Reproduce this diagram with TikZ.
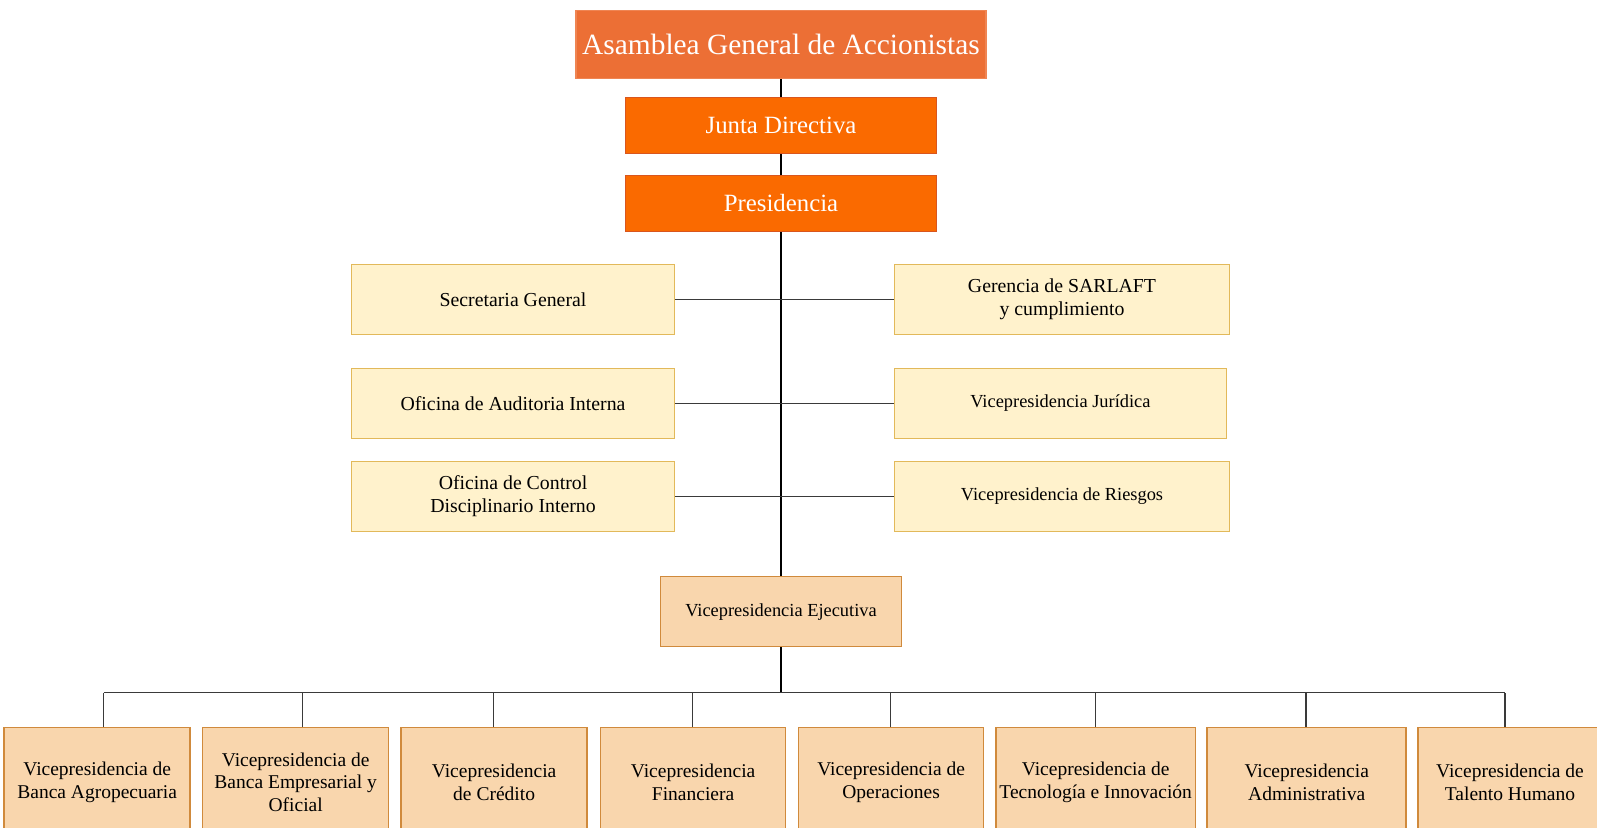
\documentclass[tikz,border=0pt]{standalone}
\usepackage{fontspec}
\setmainfont{Liberation Serif}
\definecolor{asambleafill}{HTML}{EC6F35}
\definecolor{juntafill}{HTML}{FA6A00}
\definecolor{juntaborder}{HTML}{D9561E}
\definecolor{staffill}{HTML}{FFF2CC}
\definecolor{staffborder}{HTML}{E2B95A}
\definecolor{vpfill}{HTML}{F9D6AD}
\definecolor{vpborder}{HTML}{D08A3C}
\definecolor{linkgray}{HTML}{3A3A3A}
\begin{document}
\begin{tikzpicture}[x=1pt,y=-1pt,
  box/.style={rectangle,inner sep=0pt,align=center,line width=1.5pt},
  topbox/.style={box,fill=asambleafill,draw=asambleafill!85!white,text=white,
    minimum width=410pt,minimum height=68pt,font=\fontsize{29.4}{34}\selectfont},
  govbox/.style={box,fill=juntafill,draw=juntaborder,text=white,
    minimum width=311pt,minimum height=56pt,font=\fontsize{24.8}{29}\selectfont},
  staffbox/.style={box,fill=staffill,draw=staffborder,
    minimum height=70pt,font=\fontsize{19.8}{23.5}\selectfont},
  staffsmall/.style={staffbox,font=\fontsize{18.4}{22}\selectfont},
  vpbox/.style={box,fill=vpfill,draw=vpborder,
    minimum height=110pt,font=\fontsize{19.5}{22.4}\selectfont},
  trunk/.style={line width=2pt,black},
  link/.style={line width=1.5pt,linkgray}]
\clip (0,0) rectangle (1597,827);
\fill[white] (0,0) rectangle (1597,827);

% governing bodies
\node[topbox] (asamblea) at (781,44.7) {Asamblea General de Accionistas};
\node[govbox] (junta) at (781,125.7) {Junta Directiva};
\node[govbox] (pres) at (781,203.3) {Presidencia};

% staff offices
\node[staffbox,minimum width=323pt] (secre) at (513,299.3) {Secretaria General};
\node[staffbox,minimum width=323pt] (audit) at (513,403.5) {Oficina de Auditoria Interna};
\node[staffbox,minimum width=323pt] (discip) at (513,496.3) {Oficina de Control\\Disciplinario Interno};
\node[staffbox,minimum width=335pt] (sarlaft) at (1062,299.3) {Gerencia de SARLAFT\\y cumplimiento};
\node[staffsmall,minimum width=332pt] (jur) at (1060.4,403.5) {Vicepresidencia Jurídica};
\node[staffsmall,minimum width=335pt] (riesgo) at (1062,496.3) {Vicepresidencia de Riesgos};

% executive vice presidency
\node[staffsmall,fill=vpfill,draw=vpborder,minimum width=241pt] (ejec) at (781,611.7) {Vicepresidencia Ejecutiva};

% vice presidencies
\node[vpbox,minimum width=186pt] (v1) at (97.2,782.3) {Vicepresidencia de\\Banca Agropecuaria};
\node[vpbox,minimum width=186pt] (v2) at (295.7,782.3) {Vicepresidencia de\\Banca Empresarial y\\Oficial};
\node[vpbox,minimum width=186pt] (v3) at (494.1,782.3) {Vicepresidencia\\de Crédito};
\node[vpbox,minimum width=185pt] (v4) at (693.1,782.3) {Vicepresidencia\\Financiera};
\node[vpbox,minimum width=185pt] (v5) at (891.1,782.3) {Vicepresidencia de\\Operaciones};
\node[vpbox,minimum width=199.5pt] (v6) at (1095.7,782.3) {Vicepresidencia de\\Tecnología e Innovación};
\node[vpbox,minimum width=199pt] (v7) at (1306.7,782.3) {Vicepresidencia\\Administrativa};
\node[vpbox,minimum width=184pt] (v8) at (1510,782.3) {Vicepresidencia de\\Talento Humano};

% main line of authority
\draw[trunk] (asamblea.south) -- (junta.north);
\draw[trunk] (junta.south) -- (pres.north);
\draw[trunk] (pres.south) -- (ejec.north);

% staff links
\draw[link] (secre.east) -- (sarlaft.west);
\draw[link] (audit.east) -- (jur.west);
\draw[link] (discip.east) -- (riesgo.west);

% distribution bus to vice presidencies
\coordinate (bus) at (781,692.7);
\coordinate (d1) at ([xshift=6.4pt]v1.north);
\coordinate (d2) at ([xshift=6.9pt]v2.north);
\coordinate (d3) at ([xshift=-0.7pt]v3.north);
\coordinate (d4) at ([xshift=-0.8pt]v4.north);
\coordinate (d5) at ([xshift=-0.7pt]v5.north);
\coordinate (d6) at ([xshift=-0.2pt]v6.north);
\coordinate (d7) at ([xshift=-0.5pt]v7.north);
\coordinate (d8) at ([xshift=-4.8pt]v8.north);
\draw[trunk] (ejec.south) -- (bus);
\draw[link] (d1 |- bus) -- (d8 |- bus);
\foreach \d in {d1,d2,d3,d4,d5,d6,d7,d8}
  \draw[link] (\d) -- (\d |- bus);
\end{tikzpicture}
\end{document}
